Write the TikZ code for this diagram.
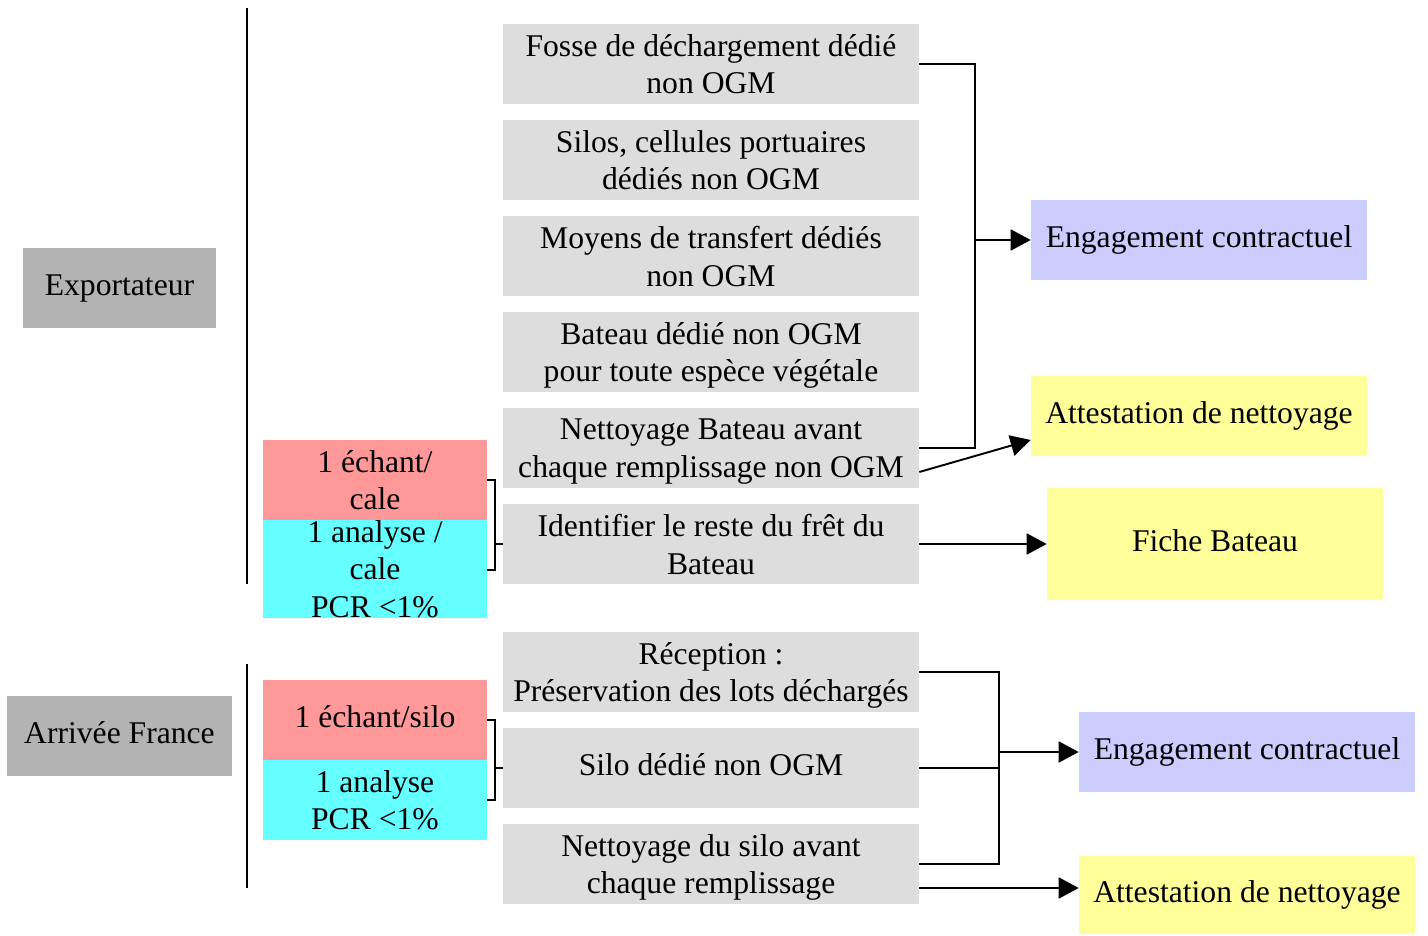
\documentclass[tikz,border=0pt]{standalone}
\usepackage{fontspec}
\setmainfont{Liberation Serif}
\usetikzlibrary{arrows.meta}
\definecolor{grisfonce}{HTML}{B3B3B3}
\definecolor{grisclair}{HTML}{DDDDDD}
\definecolor{rose}{HTML}{FF9999}
\definecolor{cyanclair}{HTML}{66FFFF}
\definecolor{bleuclair}{HTML}{CCCCFF}
\definecolor{jaune}{HTML}{FFFF99}

\begin{document}
\begin{tikzpicture}[x=0.02cm, y=-0.02cm,
	every node/.style={font=\fontsize{18}{21.5}\selectfont, align=center, inner sep=0pt, text depth=0pt},
	etape/.style={fill=grisclair, minimum width=8.32cm, minimum height=1.6cm},
	titre/.style={fill=grisfonce, minimum height=1.6cm},
	uneligne/.style={text height=0.8em},
	lien/.style={line width=1.1pt},
	fleche/.style={line width=1.1pt, -{Triangle[length=0.4cm, width=0.42cm]}}]
			%%%%% START %%%%%
			\useasboundingbox (0, 0) rectangle (1428, 936);
			
			\node[titre, uneligne, minimum width=3.86cm] (export) at (119.5, 288) {Exportateur};
			\node[titre, uneligne, minimum width=4.5cm] (arrivee) at (119.5, 736) {Arrivée France};
			
			\draw[lien] (247, 8) -- (247, 584);
			\draw[lien] (247, 664) -- (247, 888);
			
			\node[etape] (fosse) at (711, 64) {Fosse de déchargement dédié\\non OGM};
			\node[etape] (silos) at (711, 160) {Silos, cellules portuaires\\dédiés non OGM};
			\node[etape] (moyens) at (711, 256) {Moyens de transfert dédiés\\non OGM};
			\node[etape] (bateau) at (711, 352) {Bateau dédié non OGM\\pour toute espèce végétale};
			\node[etape] (nettbat) at (711, 448) {Nettoyage Bateau avant\\chaque remplissage non OGM};
			\node[etape] (fret) at (711, 544) {Identifier le reste du frêt du\\Bateau};
			\node[etape] (recep) at (711, 672) {Réception :\\Préservation des lots déchargés};
			\node[etape, uneligne] (silo) at (711, 768) {Silo dédié non OGM};
			\node[etape] (nettsilo) at (711, 864) {Nettoyage du silo avant\\chaque remplissage};
			
			% echantillons et analyses
			\node[fill=rose, minimum width=4.48cm, minimum height=1.6cm] (echcale) at (375, 480) {1 échant/\\cale};
			\fill[cyanclair] (263, 520) rectangle (487, 618);
			\begin{scope}
				\clip (263, 520) rectangle (487, 618);
				\node (anacale) at (375, 569) {1 analyse /\\cale\\PCR <1\%};
			\end{scope}
			\node[fill=rose, uneligne, minimum width=4.48cm, minimum height=1.6cm] (echsilo) at (375, 720) {1 échant/silo};
			\node[fill=cyanclair, minimum width=4.48cm, minimum height=1.6cm] (anasilo) at (375, 800) {1 analyse\\PCR <1\%};
			
			\draw[lien] (487, 480) -| (495, 570) -- (487, 570);
			\draw[lien] (495, 544) -- (fret.west);
			\draw[lien] (487, 720) -| (495, 800) -- (487, 800);
			\draw[lien] (495, 768) -- (silo.west);
			
			\node[fill=bleuclair, uneligne, minimum width=6.72cm, minimum height=1.6cm] (engage1) at (1199, 240) {Engagement contractuel};
			\node[fill=jaune, uneligne, minimum width=6.72cm, minimum height=1.6cm] (attest1) at (1199, 416) {Attestation de nettoyage};
			\node[fill=jaune, uneligne, minimum width=6.72cm, minimum height=2.24cm] (fiche) at (1215, 544) {Fiche Bateau};
			\node[fill=bleuclair, uneligne, minimum width=6.72cm, minimum height=1.6cm] (engage2) at (1247, 752) {Engagement contractuel};
			\node[fill=jaune, uneligne, minimum width=6.72cm, minimum height=1.56cm] (attest2) at (1247, 895) {Attestation de nettoyage};
			
			\coordinate (busA) at (975, 240);
			\coordinate (busB) at (999, 752);
			
			\draw[lien] (fosse.east) -| (busA) |- (nettbat.east);
			\draw[fleche] (busA) -- (engage1.west);
			\draw[fleche] ([yshift=-0.48cm]nettbat.east) -- ([yshift=-0.48cm]attest1.west);
			\draw[fleche] (fret.east) -- (fiche.west |- fret.east);
			
			\draw[lien] (recep.east) -| (busB) |- (nettsilo.east);
			\draw[lien] (silo.east) -- (silo.east -| busB);
			\draw[fleche] (busB) -- (engage2.west);
			\draw[fleche] ([yshift=-0.48cm]nettsilo.east) -- ([yshift=-0.48cm]nettsilo.east -| attest2.west);
			%%%%% END %%%%%
\end{tikzpicture}
\end{document}
